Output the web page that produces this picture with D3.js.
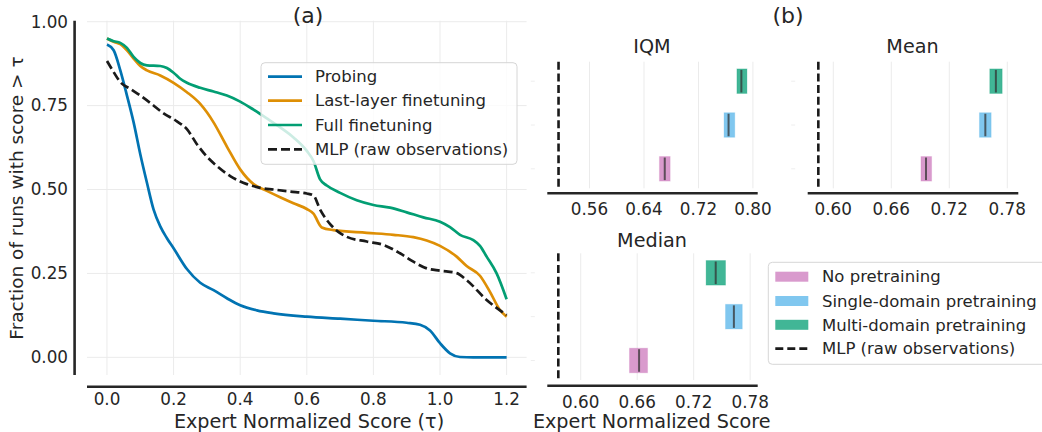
<!DOCTYPE html>
<html>
<head>
<meta charset="utf-8">
<script src="https://cdn.jsdelivr.net/npm/d3@7"></script>
<style>
  html, body { margin: 0; padding: 0; background: #fff; }
  svg { display: block; font-family: "DejaVu Sans", sans-serif; }
</style>
</head>
<body>
<svg id="chart" width="1042" height="432"></svg>
<script>
// ---- panel (a): performance profiles ----
const probingTau  = [0, 0.02, 0.04, 0.06, 0.08, 0.10, 0.12, 0.14, 0.16, 0.18, 0.20, 0.24, 0.28, 0.32, 0.36, 0.40, 0.45, 0.50, 0.60, 0.70, 0.80, 0.90, 0.94, 0.97, 1.00, 1.03, 1.06, 1.10, 1.20];
const probingFrac = [0.932, 0.915, 0.855, 0.78, 0.70, 0.605, 0.52, 0.44, 0.39, 0.355, 0.325, 0.263, 0.222, 0.20, 0.176, 0.155, 0.14, 0.131, 0.121, 0.115, 0.109, 0.103, 0.097, 0.08, 0.042, 0.012, 0.001, 0, 0];

const lastTau  = [0, 0.02, 0.04, 0.06, 0.08, 0.10, 0.12, 0.16, 0.20, 0.24, 0.28, 0.30, 0.32, 0.36, 0.40, 0.44, 0.48, 0.52, 0.56, 0.60, 0.62, 0.645, 0.68, 0.78, 0.86, 0.92, 0.96, 1.00, 1.05, 1.08, 1.12, 1.15, 1.18, 1.20];
const lastFrac = [0.950, 0.940, 0.933, 0.915, 0.890, 0.868, 0.855, 0.840, 0.818, 0.790, 0.755, 0.730, 0.700, 0.628, 0.560, 0.516, 0.496, 0.477, 0.459, 0.442, 0.428, 0.387, 0.379, 0.371, 0.365, 0.358, 0.348, 0.332, 0.300, 0.272, 0.243, 0.195, 0.141, 0.121];

const fullTau  = [0, 0.02, 0.04, 0.06, 0.08, 0.10, 0.12, 0.16, 0.18, 0.20, 0.22, 0.24, 0.28, 0.32, 0.36, 0.40, 0.44, 0.48, 0.52, 0.56, 0.60, 0.62, 0.64, 0.66, 0.70, 0.75, 0.80, 0.85, 0.90, 0.95, 1.00, 1.03, 1.06, 1.10, 1.12, 1.14, 1.17, 1.20];
const fullFrac = [0.950, 0.942, 0.937, 0.922, 0.895, 0.877, 0.870, 0.868, 0.862, 0.848, 0.830, 0.818, 0.803, 0.792, 0.780, 0.762, 0.738, 0.712, 0.685, 0.655, 0.615, 0.585, 0.530, 0.512, 0.490, 0.468, 0.454, 0.446, 0.432, 0.417, 0.404, 0.388, 0.365, 0.349, 0.332, 0.300, 0.250, 0.173];

const mlpTau  = [0, 0.02, 0.04, 0.07, 0.10, 0.13, 0.17, 0.21, 0.24, 0.27, 0.30, 0.33, 0.37, 0.42, 0.46, 0.50, 0.55, 0.60, 0.62, 0.64, 0.67, 0.70, 0.72, 0.78, 0.83, 0.88, 0.92, 0.96, 1.00, 1.05, 1.08, 1.14, 1.20];
const mlpFrac = [0.883, 0.850, 0.820, 0.800, 0.780, 0.758, 0.727, 0.703, 0.680, 0.635, 0.598, 0.570, 0.540, 0.516, 0.505, 0.500, 0.494, 0.488, 0.482, 0.440, 0.397, 0.370, 0.359, 0.345, 0.335, 0.310, 0.285, 0.265, 0.258, 0.251, 0.230, 0.171, 0.126];

const profileNames = ["Probing", "Last-layer finetuning", "Full finetuning", "MLP (raw observations)"];
const xTicksA = [0, 0.2, 0.4, 0.6, 0.8, 1.0, 1.2];
const yTicksA = [0, 0.25, 0.5, 0.75, 1.0];

// ---- panel (b): aggregate metrics with CIs ----
const methods = ["No pretraining", "Single-domain pretraining", "Multi-domain pretraining"];
const iqmLow  = [0.6627, 0.7576, 0.7765];
const iqmHigh = [0.6784, 0.7733, 0.7912];
const iqmMid  = [0.6705, 0.7642, 0.7830];
const meanLow  = [0.6907, 0.7512, 0.7619];
const meanHigh = [0.7017, 0.7633, 0.7747];
const meanMid  = [0.6959, 0.7573, 0.7682];
const medLow  = [0.6518, 0.7538, 0.7332];
const medHigh = [0.6710, 0.7716, 0.7538];
const medMid  = [0.6620, 0.7627, 0.7434];
const mlpIqm = 0.5145, mlpMean = 0.5845, mlpMedian = 0.5762;
const iqmTicks = [0.56, 0.64, 0.72, 0.80];
const meanTicks = [0.60, 0.66, 0.72, 0.78];
const medTicks = [0.60, 0.66, 0.72, 0.78];

const INK = '#262626', GRID = '#ebebeb';
const TICK_FS = 16.8, LEG_FS = 16.5, LAB_FS = 19.2;
const lineColors = ['#0173b2', '#de8f05', '#029e73', '#1a1a1a'];
const barColors = ['#cc78bc', '#56b4e9', '#029e73'];

const svg = d3.select('#chart');

// ================= panel (a) =================
const xA = d3.scaleLinear().domain([-0.06, 1.26]).range([87, 526.6]);
const yA = d3.scaleLinear().domain([-0.0527, 1.003]).range([375, 20.7]);
const gA = svg.append('g');

gA.append('g').selectAll('line').data(yTicksA).join('line')
  .attr('x1', xA.range()[0]).attr('x2', xA.range()[1])
  .attr('y1', d => yA(d)).attr('y2', d => yA(d))
  .attr('stroke', GRID).attr('stroke-width', 1);
gA.append('g').selectAll('line').data(xTicksA).join('line')
  .attr('y1', yA.range()[0]).attr('y2', yA.range()[1])
  .attr('x1', d => xA(d)).attr('x2', d => xA(d))
  .attr('stroke', GRID).attr('stroke-width', 1);

const series = [
  [probingTau, probingFrac], [lastTau, lastFrac], [fullTau, fullFrac], [mlpTau, mlpFrac]
];
const lineGen = d3.line().x(d => xA(d[0])).y(d => yA(d[1])).curve(d3.curveMonotoneX);
series.forEach(([t, f], i) => {
  const pts = t.map((v, j) => [v, f[j]]);
  gA.append('path').datum(pts)
    .attr('fill', 'none').attr('stroke', lineColors[i])
    .attr('stroke-width', 2.7)
    .attr('stroke-dasharray', i === 3 ? '9,4' : null)
    .attr('d', lineGen);
});

// offset spines
gA.append('line').attr('x1', 74.6).attr('x2', 74.6)
  .attr('y1', yA.range()[1]).attr('y2', yA.range()[0])
  .attr('stroke', INK).attr('stroke-width', 2.6);
gA.append('line').attr('x1', xA.range()[0]).attr('x2', xA.range()[1])
  .attr('y1', 386.7).attr('y2', 386.7)
  .attr('stroke', INK).attr('stroke-width', 2.6);

gA.append('g').selectAll('text').data(yTicksA).join('text')
  .attr('x', 68).attr('y', d => yA(d)).attr('dy', '0.35em')
  .attr('text-anchor', 'end').attr('font-size', TICK_FS).attr('fill', INK)
  .text(d3.format('.2f'));
gA.append('g').selectAll('text').data(xTicksA).join('text')
  .attr('x', d => xA(d)).attr('y', 399.5).attr('dy', '0.35em')
  .attr('text-anchor', 'middle').attr('font-size', TICK_FS).attr('fill', INK)
  .text(d3.format('.1f'));

gA.append('text').attr('x', 308).attr('y', 15).attr('dy', '0.35em')
  .attr('text-anchor', 'middle').attr('font-size', 22).attr('fill', INK).text('(a)');
gA.append('text').attr('x', 309).attr('y', 421).attr('dy', '0.35em')
  .attr('text-anchor', 'middle').attr('font-size', LAB_FS).attr('fill', INK)
  .text('Expert Normalized Score (τ)');
gA.append('text').attr('transform', 'translate(17,198) rotate(-90)').attr('dy', '0.35em')
  .attr('text-anchor', 'middle').attr('font-size', 18.5).attr('fill', INK)
  .text('Fraction of runs with score > τ');

// legend (a)
const legA = gA.append('g');
legA.append('rect').attr('x', 261).attr('y', 62.7).attr('width', 256).attr('height', 101.6)
  .attr('rx', 4).attr('fill', '#fff').attr('fill-opacity', 0.8)
  .attr('stroke', '#d6d6d6').attr('stroke-width', 1);
const legRowsA = [76.7, 100.7, 125, 149.3];
profileNames.forEach((name, i) => {
  legA.append('line').attr('x1', 268).attr('x2', 302)
    .attr('y1', legRowsA[i]).attr('y2', legRowsA[i])
    .attr('stroke', lineColors[i]).attr('stroke-width', 2.7)
    .attr('stroke-dasharray', i === 3 ? '9,4' : null);
  legA.append('text').attr('x', 315).attr('y', legRowsA[i]).attr('dy', '0.35em')
    .attr('font-size', LEG_FS).attr('fill', INK).text(name);
});

// ================= panel (b) =================
function intervalPanel(opt) {
  const g = svg.append('g');
  const x = d3.scaleLinear().domain(opt.domain).range(opt.xRange);
  const y = d3.scalePoint().domain(methods.slice().reverse()).range(opt.yRange).padding(0.445);
  const bh = y.step() * 0.56;

  g.append('g').selectAll('line').data(opt.ticks).join('line')
    .attr('x1', d => x(d)).attr('x2', d => x(d))
    .attr('y1', opt.yRange[0]).attr('y2', opt.yRange[1])
    .attr('stroke', GRID).attr('stroke-width', 1);
  // faint y ticks
  g.append('g').selectAll('line').data(methods).join('line')
    .attr('x1', opt.xRange[0] - 16.5).attr('x2', opt.xRange[0] - 12.5)
    .attr('y1', d => y(d)).attr('y2', d => y(d))
    .attr('stroke', '#eeeeee').attr('stroke-width', 1);

  g.append('line').attr('x1', x(opt.mlp)).attr('x2', x(opt.mlp))
    .attr('y1', opt.yRange[0]).attr('y2', opt.yRange[1])
    .attr('stroke', '#1a1a1a').attr('stroke-width', 2.6).attr('stroke-dasharray', '8,3.7');

  methods.forEach((m, i) => {
    g.append('rect').attr('x', x(opt.low[i])).attr('width', x(opt.high[i]) - x(opt.low[i]))
      .attr('y', y(m) - bh / 2).attr('height', bh)
      .attr('fill', barColors[i]).attr('fill-opacity', 0.75)
      .attr('stroke', barColors[i]).attr('stroke-opacity', 0.25).attr('stroke-width', 1);
    g.append('line').attr('x1', x(opt.mid[i])).attr('x2', x(opt.mid[i]))
      .attr('y1', y(m) - bh / 2 + 1).attr('y2', y(m) + bh / 2 - 1)
      .attr('stroke', '#333').attr('stroke-opacity', 0.75).attr('stroke-width', 2);
  });

  g.append('line').attr('x1', opt.xRange[0]).attr('x2', opt.xRange[1])
    .attr('y1', opt.spineY).attr('y2', opt.spineY)
    .attr('stroke', INK).attr('stroke-width', 2.6);
  g.append('g').selectAll('text').data(opt.ticks).join('text')
    .attr('x', d => x(d)).attr('y', opt.spineY + 16).attr('dy', '0.35em')
    .attr('text-anchor', 'middle').attr('font-size', TICK_FS).attr('fill', INK)
    .text(d3.format('.2f'));
  g.append('text').attr('x', (opt.xRange[0] + opt.xRange[1]) / 2 - 0.5).attr('y', opt.titleY)
    .attr('dy', '0.35em').attr('text-anchor', 'middle').attr('font-size', LAB_FS).attr('fill', INK)
    .text(opt.title);
  return g;
}

intervalPanel({ title: 'IQM', domain: [0.498, 0.807], xRange: [547.3, 757.7], yRange: [61.7, 188.3],
  spineY: 193.3, titleY: 46.7, ticks: iqmTicks, low: iqmLow, high: iqmHigh, mid: iqmMid, mlp: mlpIqm });
intervalPanel({ title: 'Mean', domain: [0.5735, 0.7914], xRange: [807.7, 1018.3], yRange: [61.7, 188.3],
  spineY: 193.3, titleY: 46.7, ticks: meanTicks, low: meanLow, high: meanHigh, mid: meanMid, mlp: mlpMean });
intervalPanel({ title: 'Median', domain: [0.5645, 0.788], xRange: [547.3, 757.7], yRange: [253.3, 380],
  spineY: 385.7, titleY: 240, ticks: medTicks, low: medLow, high: medHigh, mid: medMid, mlp: mlpMedian });

svg.append('text').attr('x', 788).attr('y', 15).attr('dy', '0.35em')
  .attr('text-anchor', 'middle').attr('font-size', 22).attr('fill', INK).text('(b)');
svg.append('text').attr('x', 651.7).attr('y', 421.7).attr('dy', '0.35em')
  .attr('text-anchor', 'middle').attr('font-size', LAB_FS).attr('fill', INK).text('Expert Normalized Score');

// legend (b)
const legB = svg.append('g');
legB.append('rect').attr('x', 768.3).attr('y', 262.3).attr('width', 300).attr('height', 102)
  .attr('rx', 4).attr('fill', '#fff').attr('stroke', '#d6d6d6').attr('stroke-width', 1);
const legRowsB = [276.7, 301, 324.8, 348.6];
methods.forEach((m, i) => {
  legB.append('rect').attr('x', 775.3).attr('y', legRowsB[i] - 5).attr('width', 33).attr('height', 10)
    .attr('fill', barColors[i]).attr('fill-opacity', 0.75);
  legB.append('text').attr('x', 822).attr('y', legRowsB[i]).attr('dy', '0.35em')
    .attr('font-size', LEG_FS).attr('fill', INK).text(m);
});
legB.append('line').attr('x1', 775.3).attr('x2', 808.3).attr('y1', legRowsB[3]).attr('y2', legRowsB[3])
  .attr('stroke', '#1a1a1a').attr('stroke-width', 2.6).attr('stroke-dasharray', '8,4');
legB.append('text').attr('x', 822).attr('y', legRowsB[3]).attr('dy', '0.35em')
  .attr('font-size', LEG_FS).attr('fill', INK).text('MLP (raw observations)');
</script>
</body>
</html>
